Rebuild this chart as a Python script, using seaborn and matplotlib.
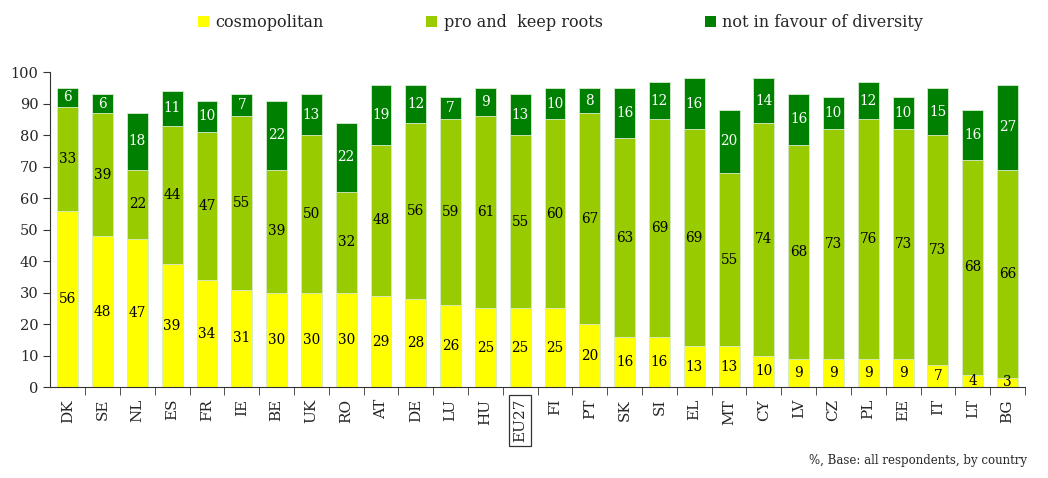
import pandas as pd
import matplotlib
matplotlib.use("Agg")
import matplotlib.pyplot as plt
import seaborn as sns
from matplotlib.patches import Patch

# данные по странам
countries = ["DK", "SE", "NL", "ES", "FR", "IE", "BE", "UK", "RO", "AT", "DE", "LU", "HU", "EU27",
             "FI", "PT", "SK", "SI", "EL", "MT", "CY", "LV", "CZ", "PL", "EE", "IT", "LT", "BG"]
cosmopolitan = [56, 48, 47, 39, 34, 31, 30, 30, 30, 29, 28, 26, 25, 25,
                25, 20, 16, 16, 13, 13, 10, 9, 9, 9, 9, 7, 4, 3]
pro_roots = [33, 39, 22, 44, 47, 55, 39, 50, 32, 48, 56, 59, 61, 55,
             60, 67, 63, 69, 69, 55, 74, 68, 73, 76, 73, 73, 68, 66]
not_favour = [6, 6, 18, 11, 10, 7, 22, 13, 22, 19, 12, 7, 9, 13,
              10, 8, 16, 12, 16, 20, 14, 16, 10, 12, 10, 15, 16, 27]

series_names = ["cosmopolitan", "pro and  keep roots", "not in favour of diversity"]
colors = ["#FFFF00", "#99CC00", "#008000"]

data = pd.DataFrame({"country": countries, "cosmo": cosmopolitan,
                     "pro": pro_roots, "not": not_favour})
data["lvl1"] = data["cosmo"]
data["lvl2"] = data["cosmo"] + data["pro"]
data["lvl3"] = data["lvl2"] + data["not"]

sns.set_style("white")
plt.rcParams["font.family"] = ["DejaVu Serif"]

fig = plt.figure(figsize=(10.48, 4.78), dpi=100)
ax = fig.add_axes([0.048, 0.19, 0.93, 0.659])

# слои: сначала полная высота, потом поверх
for col, c in zip(["lvl3", "lvl2", "lvl1"], colors[::-1]):
    sns.barplot(x="country", y=col, data=data, order=countries, color=c, saturation=1,
                width=0.6, edgecolor="#d8ecd0", linewidth=0.6, ax=ax)

# подписи значений
for i, row in data.iterrows():
    ax.text(i, row["cosmo"] / 2, str(row["cosmo"]), ha="center", va="center",
            fontsize=9.8, color="black")
    ax.text(i, row["cosmo"] + row["pro"] / 2, str(row["pro"]), ha="center", va="center",
            fontsize=9.8, color="black")
    ax.text(i, row["lvl2"] + row["not"] / 2, str(row["not"]), ha="center", va="center",
            fontsize=9.8, color="white")

ax.set_xlim(-0.5, len(countries) - 0.5)
ax.set_ylim(0, 100)
ax.set_yticks(range(0, 101, 10))
ax.set_xlabel("")
ax.set_ylabel("")
sns.despine(ax=ax)
ax.spines["left"].set_color("#333333")
ax.spines["bottom"].set_color("#333333")
ax.tick_params(axis="y", left=True, length=5, color="#333333", labelsize=10.5)
ax.tick_params(axis="x", bottom=False, labelsize=11, rotation=90, pad=5)
ax.set_xticks([k + 0.5 for k in range(len(countries))], minor=True)
ax.tick_params(axis="x", which="minor", bottom=True, length=6, color="#333333")

for lbl in ax.get_xticklabels():
    if lbl.get_text() == "EU27":
        lbl.set_bbox(dict(facecolor="white", edgecolor="#333333", linewidth=0.9, pad=3))

handles = [Patch(facecolor=c, edgecolor="none") for c in colors]
fig.legend(handles, series_names, loc="upper left", bbox_to_anchor=(0.175, 1.0),
           ncol=3, frameon=False, fontsize=11.5, handlelength=0.7, handleheight=0.7,
           handletextpad=0.4, columnspacing=6.4)

fig.text(0.98, 0.022, "%, Base: all respondents, by country", ha="right", va="bottom",
         fontsize=8.5)

plt.savefig("out.png", dpi=100)
